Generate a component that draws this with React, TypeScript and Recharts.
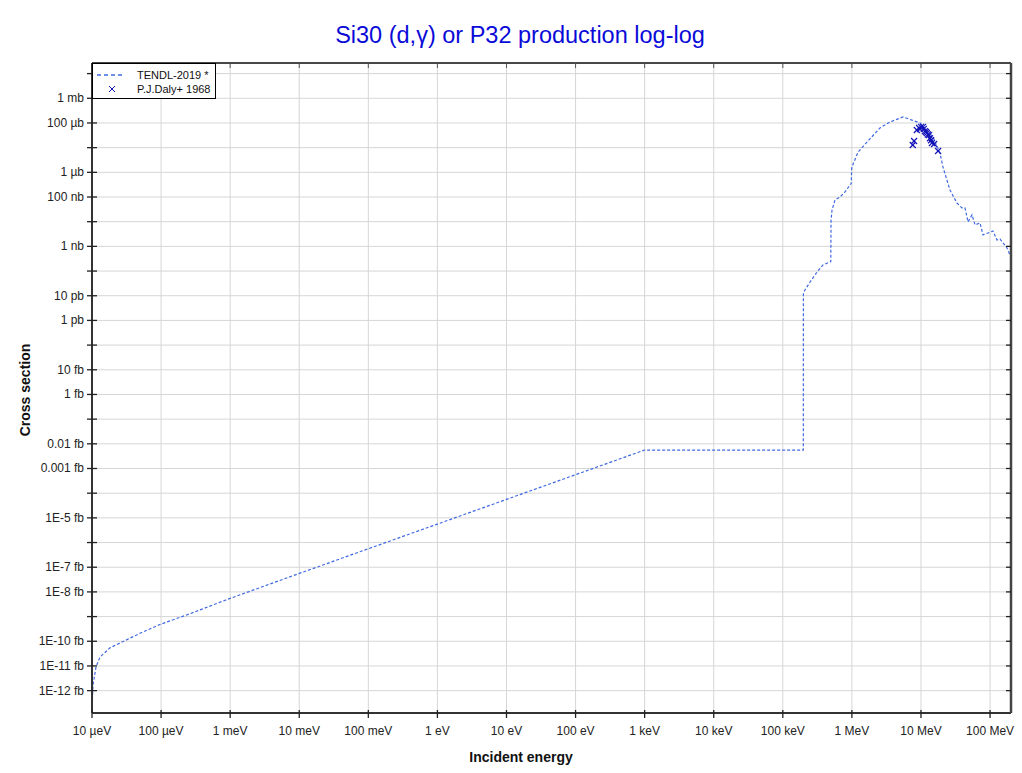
import React from 'react';
import { ComposedChart, Line, Scatter, XAxis, YAxis, CartesianGrid } from 'recharts';

// TENDL-2019 evaluated cross section (energy in eV, cross section in barn)
const tendlEnergy = [
  1.0e-5, 1.034e-5, 1.143e-5, 1.306e-5, 1.82e-5, 2.72e-5, 4.95e-5, 9.64e-5, 2.62e-4, 9.0e-4,
  1.0e-2, 1.0, 1.0e3, 1.98e5, 1.985e5, 2.09e5, 2.48e5, 3.13e5, 3.82e5, 4.82e5,
  4.95e5, 4.99e5, 5.16e5, 5.7e5, 6.73e5, 7.95e5, 9.4e5, 9.8e5, 9.9e5, 1.0e6,
  1.23e6, 1.66e6, 2.55e6, 3.56e6, 5.5e6, 7.4e6, 9.7e6, 1.49e7, 1.88e7, 2.08e7,
  2.63e7, 3.32e7, 3.93e7, 4.34e7, 4.8e7, 5.48e7, 6.06e7, 7.16e7, 7.91e7, 9.35e7,
  1.1e8, 1.26e8, 1.39e8, 1.76e8, 2.0e8,
];
const tendlSigma = [
  1.7e-28, 1.7e-27, 9.1e-27, 2.3e-26, 5.4e-26, 9.3e-26, 2.1e-25, 4.8e-25, 1.3e-24, 4.9e-24,
  5.6e-23, 5.6e-21, 5.6e-18, 5.6e-18, 1.29e-11, 1.7e-11, 3.6e-11, 9.1e-11, 1.78e-10, 2.34e-10,
  2.4e-10, 1.17e-8, 2.97e-8, 7.6e-8, 1.0e-7, 1.6e-7, 3.1e-7, 3.5e-7, 1.24e-6, 1.65e-6,
  6.7e-6, 1.7e-5, 6.3e-5, 1.1e-4, 1.75e-4, 1.3e-4, 1.0e-4, 2.7e-5, 6.1e-6, 1.65e-6,
  1.9e-7, 5.7e-8, 3.6e-8, 3.6e-8, 9.7e-9, 1.9e-8, 7.4e-9, 8.9e-9, 2.9e-9, 3.5e-9,
  4.2e-9, 1.8e-9, 2.0e-9, 8.6e-10, 3.7e-10,
];

// P.J.Daly+ 1968 measurements
const dalyEnergy = [
  7.6e6, 7.94e6, 8.7e6, 9.37e6, 9.7e6, 1.0e7, 1.07e7, 1.1e7, 1.14e7, 1.18e7,
  1.22e7, 1.26e7, 1.31e7, 1.35e7, 1.40e7, 1.44e7, 1.55e7, 1.77e7,
];
const dalySigma = [
  1.28e-5, 1.86e-5, 5.2e-5, 6.3e-5, 5.6e-5, 6.9e-5, 6.9e-5, 5.8e-5, 4.7e-5, 4.3e-5,
  3.9e-5, 3.4e-5, 3.2e-5, 2.4e-5, 2.0e-5, 1.55e-5, 1.4e-5, 7.3e-6,
];

const xTicks = [1e-5, 1e-4, 1e-3, 1e-2, 1e-1, 1, 10, 100, 1e3, 1e4, 1e5, 1e6, 1e7, 1e8];
const xTickLabels = ['10 µeV', '100 µeV', '1 meV', '10 meV', '100 meV', '1 eV', '10 eV', '100 eV', '1 keV', '10 keV', '100 keV', '1 MeV', '10 MeV', '100 MeV'];

const yTicks = [1e-2, 1e-3, 1e-4, 1e-5, 1e-6, 1e-7, 1e-8, 1e-9, 1e-10, 1e-11, 1e-12, 1e-13, 1e-14,
  1e-15, 1e-16, 1e-17, 1e-18, 1e-19, 1e-20, 1e-21, 1e-22, 1e-23, 1e-24, 1e-25, 1e-26, 1e-27];
const yTickLabels = ['', '1 mb', '100 µb', '', '1 µb', '100 nb', '', '1 nb', '', '10 pb', '1 pb', '', '10 fb',
  '1 fb', '', '0.01 fb', '0.001 fb', '', '1E-5 fb', '', '1E-7 fb', '1E-8 fb', '', '1E-10 fb', '1E-11 fb', '1E-12 fb'];

const xDomain = [1e-5, 2.01e8];
const yDomain = [1.24e-28, 0.0269];

const tendlData = tendlEnergy.map((e, i) => ({ e, s: tendlSigma[i] }));
const dalyData = dalyEnergy.map((e, i) => ({ e, s: dalySigma[i] }));

const FONT = '"Liberation Sans", Arial, Helvetica, sans-serif';
const LINE_COLOR = '#4169e1';
const MARK_COLOR = '#1212b8';

const findIndex = (arr: number[], v: number) => {
  const lv = Math.log10(v);
  return arr.findIndex((t) => Math.abs(Math.log10(t) - lv) < 0.01);
};

const LeftTick = (props: any) => {
  const { x, y, payload } = props;
  const idx = findIndex(yTicks, payload.value);
  const label = idx >= 0 ? yTickLabels[idx] : '';
  return (
    <g>
      <line x1={x - 5} x2={x + 5} y1={y} y2={y} stroke="#222" strokeWidth={1.3} />
      {label ? (
        <text x={x - 8} y={y} dy={4} textAnchor="end" fontSize={12} fill="#222" fontFamily={FONT}>
          {label}
        </text>
      ) : null}
    </g>
  );
};

const BottomTick = (props: any) => {
  const { x, y, payload } = props;
  const idx = findIndex(xTicks, payload.value);
  const label = idx >= 0 ? xTickLabels[idx] : '';
  return (
    <g>
      <line x1={x} x2={x} y1={y - 3} y2={y + 5} stroke="#222" strokeWidth={1.3} />
      <text x={x} y={y + 22} textAnchor="middle" fontSize={12} fill="#222" fontFamily={FONT}>
        {label}
      </text>
    </g>
  );
};

const CrossShape = (props: any) => {
  const { cx, cy } = props;
  if (cx == null || cy == null) return null;
  const r = 3;
  return (
    <g>
      <line x1={cx - r} y1={cy - r} x2={cx + r} y2={cy + r} stroke={MARK_COLOR} strokeWidth={1.2} />
      <line x1={cx - r} y1={cy + r} x2={cx + r} y2={cy - r} stroke={MARK_COLOR} strokeWidth={1.2} />
    </g>
  );
};

export default function App() {
  return (
    <div style={{ position: 'absolute', left: 0, top: 0, width: 1022, height: 773, background: '#fff', fontFamily: FONT }}>
      <div style={{ position: 'absolute', left: 0, top: 20, width: 1040, textAlign: 'center', fontSize: 23.5, lineHeight: '30px', color: '#0a0ad8', fontFamily: FONT }}>
        Si30 (d,γ) or P32 production log-log
      </div>
      <ComposedChart
        width={1022}
        height={773}
        margin={{ top: 63, right: 11, bottom: 30, left: 0 }}
        style={{ position: 'absolute', left: 0, top: 0 }}
      >
        <CartesianGrid stroke="#d6d6d6" strokeWidth={1} />
        <XAxis
          dataKey="e"
          type="number"
          scale="log"
          domain={xDomain}
          allowDataOverflow
          ticks={xTicks}
          interval={0}
          height={30}
          tickSize={0}
          tickMargin={0}
          tickLine={false}
          tick={<BottomTick />}
          axisLine={{ stroke: '#333', strokeWidth: 2 }}
        />
        <XAxis
          xAxisId="top"
          orientation="top"
          mirror
          dataKey="e"
          type="number"
          scale="log"
          domain={xDomain}
          allowDataOverflow
          ticks={xTicks}
          interval={0}
          height={5}
          tickSize={5}
          tickFormatter={() => ''}
          tickLine={{ stroke: '#555' }}
          axisLine={{ stroke: '#111', strokeWidth: 1.5 }}
        />
        <YAxis
          dataKey="s"
          type="number"
          scale="log"
          domain={yDomain}
          allowDataOverflow
          ticks={yTicks}
          interval={0}
          width={92}
          tickSize={0}
          tickMargin={0}
          tickLine={false}
          tick={<LeftTick />}
          axisLine={{ stroke: '#333', strokeWidth: 2 }}
        />
        <YAxis
          yAxisId="right"
          orientation="right"
          mirror
          dataKey="s"
          type="number"
          scale="log"
          domain={yDomain}
          allowDataOverflow
          ticks={yTicks}
          interval={0}
          width={5}
          tickSize={5}
          tickFormatter={() => ''}
          tickLine={{ stroke: '#222', strokeWidth: 1.3 }}
          axisLine={{ stroke: '#444', strokeWidth: 2.5 }}
        />
        <Line
          data={tendlData}
          dataKey="s"
          type="linear"
          stroke={LINE_COLOR}
          strokeWidth={1.2}
          strokeDasharray="3 2"
          dot={false}
          activeDot={false}
          isAnimationActive={false}
        />
        <Scatter data={dalyData} dataKey="s" shape={<CrossShape />} isAnimationActive={false} />
      </ComposedChart>
      <div style={{ position: 'absolute', left: 0, top: 748, width: 1042, textAlign: 'center', fontSize: 14, lineHeight: '18px', fontWeight: 'bold', color: '#111' }}>
        Incident energy
      </div>
      <div
        style={{
          position: 'absolute',
          left: 25,
          top: 390,
          transform: 'translate(-50%, -50%) rotate(-90deg)',
          fontSize: 14,
          lineHeight: '18px',
          fontWeight: 'bold',
          color: '#111',
          whiteSpace: 'nowrap',
        }}
      >
        Cross section
      </div>
      <svg style={{ position: 'absolute', left: 92, top: 63 }} width={124} height={36}>
        <rect x={0.5} y={0.5} width={123} height={35} fill="#fff" stroke="#000" strokeWidth={1} />
        <line x1={5} x2={31} y1={12} y2={12} stroke={LINE_COLOR} strokeWidth={1.5} strokeDasharray="4 3" />
        <text x={45} y={15.5} fontSize={11} fill="#111" fontFamily={FONT}>TENDL-2019 *</text>
        <line x1={17} y1={23} x2={23} y2={29} stroke={MARK_COLOR} strokeWidth={1} />
        <line x1={17} y1={29} x2={23} y2={23} stroke={MARK_COLOR} strokeWidth={1} />
        <text x={45} y={29.5} fontSize={11} fill="#111" fontFamily={FONT}>P.J.Daly+ 1968</text>
      </svg>
    </div>
  );
}
